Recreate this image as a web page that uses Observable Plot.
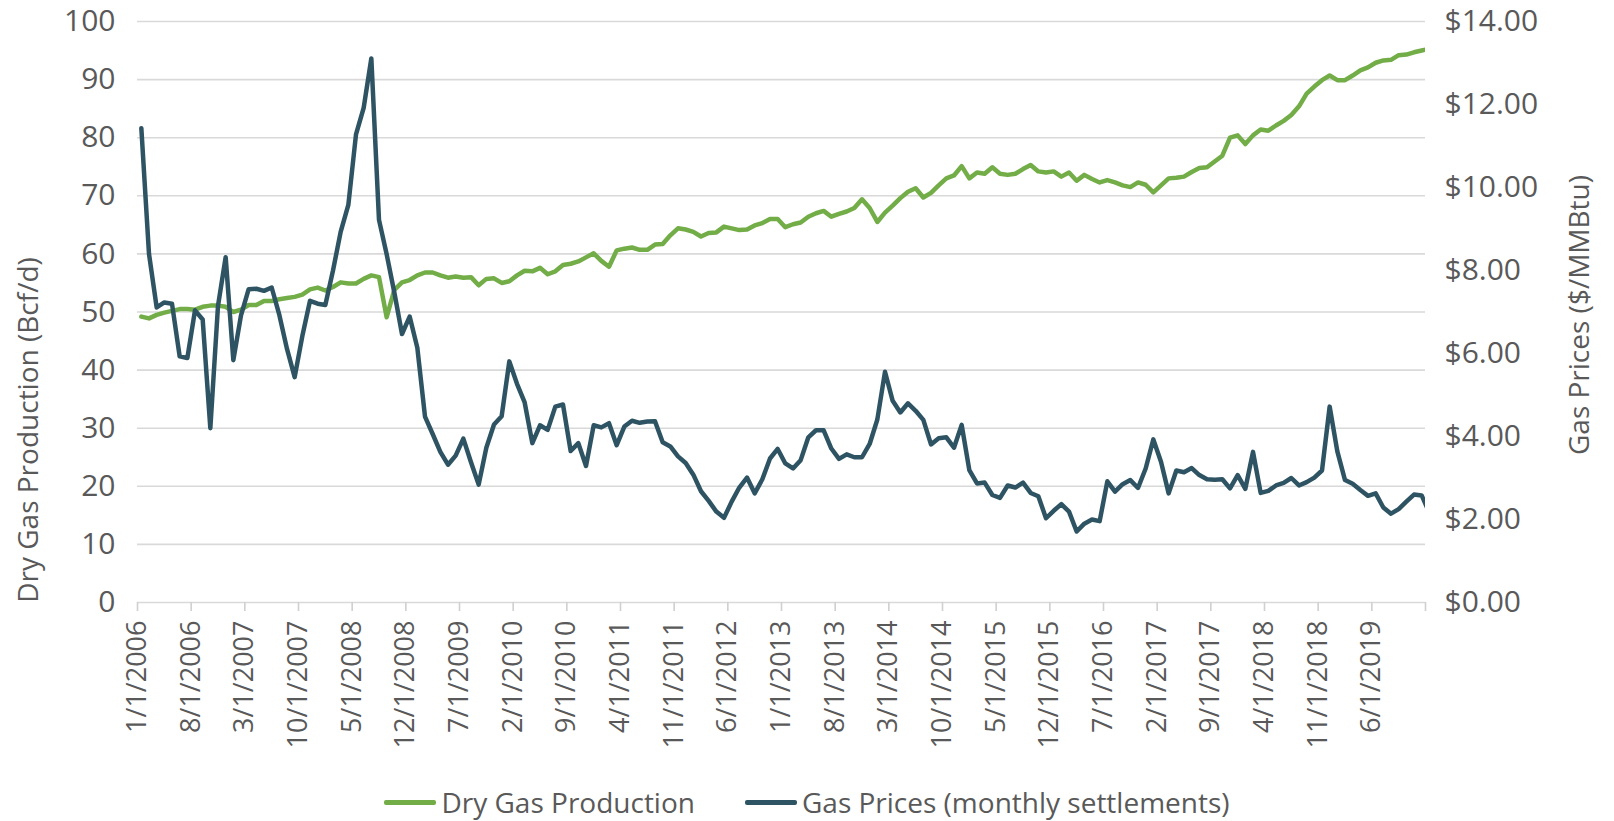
<!DOCTYPE html>
<html>
<head>
<meta charset="utf-8">
<script src="https://cdn.jsdelivr.net/npm/d3@7"></script>
<script src="https://cdn.jsdelivr.net/npm/@observablehq/plot@0.6"></script>
<style>
  body { margin: 0; background: #fff; font-family: "Open Sans", sans-serif; }
  #wrap { position: relative; width: 1614px; height: 821px; overflow: hidden; }
  #legend { position: absolute; left: 0; top: 783px; width: 1614px; height: 38px; line-height: 38px;
            display: flex; justify-content: center; align-items: center;
            font-size: 28px; color: #595959; white-space: nowrap; }
  .item { display: flex; align-items: center; }
  .item + .item { margin-left: 50px; }
  .sw { width: 52px; height: 5px; margin-right: 5px; border-radius: 2px; }
</style>
</head>
<body>
<div id="wrap"></div>
<script>
// Monthly series starting January 2006 (last value, January 2020, runs off the plot edge)
const firstYear = 2006;

// Dry gas production, Bcf/d
const production = [
  49.2, 48.9, 49.5, 49.9, 50.2, 50.5, 50.5, 50.4, 50.9, 51.1, 51.1, 50.9, // 2006
  50.0, 50.4, 51.2, 51.2, 51.9, 51.9, 52.2, 52.4, 52.6, 53.0, 53.9, 54.2, // 2007
  53.7, 54.3, 55.1, 54.9, 54.9, 55.7, 56.3, 56.0, 49.1, 53.8, 55.1, 55.5, // 2008
  56.3, 56.8, 56.8, 56.3, 55.9, 56.1, 55.9, 56.0, 54.6, 55.7, 55.8, 55.0, // 2009
  55.3, 56.3, 57.1, 57.0, 57.6, 56.5, 57.0, 58.1, 58.3, 58.7, 59.4, 60.1, // 2010
  58.8, 57.8, 60.6, 60.9, 61.1, 60.7, 60.7, 61.6, 61.7, 63.2, 64.4, 64.2, // 2011
  63.8, 63.0, 63.6, 63.7, 64.7, 64.4, 64.1, 64.2, 64.9, 65.3, 66.0, 66.0, // 2012
  64.6, 65.1, 65.4, 66.4, 67.0, 67.4, 66.4, 66.9, 67.3, 67.9, 69.4, 67.9, // 2013
  65.5, 67.1, 68.3, 69.6, 70.7, 71.3, 69.7, 70.5, 71.8, 73.0, 73.5, 75.1, // 2014
  73.0, 74.0, 73.8, 74.9, 73.8, 73.6, 73.8, 74.6, 75.3, 74.2, 74.0, 74.2, // 2015
  73.3, 74.0, 72.6, 73.6, 72.9, 72.3, 72.7, 72.3, 71.8, 71.5, 72.3, 71.9, // 2016
  70.6, 71.8, 73.0, 73.1, 73.3, 74.1, 74.8, 74.9, 75.9, 76.9, 80.0, 80.4, // 2017
  78.9, 80.4, 81.4, 81.2, 82.1, 82.9, 83.9, 85.4, 87.6, 88.8, 89.9, 90.7, // 2018
  89.9, 89.9, 90.7, 91.6, 92.1, 92.9, 93.3, 93.4, 94.2, 94.3, 94.7, 95.0, // 2019
  95.3                                                                    // 2020
];

// Gas prices, monthly settlements, $/MMBtu
const prices = [
  11.43, 8.40, 7.11, 7.23, 7.20, 5.93, 5.89, 7.04, 6.82, 4.20, 7.15, 8.32, // 2006
  5.84, 6.92, 7.55, 7.56, 7.51, 7.59, 6.93, 6.11, 5.43, 6.42, 7.27, 7.20,  // 2007
  7.17, 8.00, 8.93, 9.58, 11.28, 11.92, 13.11, 9.22, 8.39, 7.47, 6.47, 6.89, // 2008
  6.14, 4.48, 4.06, 3.63, 3.32, 3.54, 3.95, 3.38, 2.84, 3.73, 4.29, 4.49,  // 2009
  5.81, 5.27, 4.82, 3.84, 4.27, 4.16, 4.72, 4.77, 3.65, 3.84, 3.29, 4.27,  // 2010
  4.22, 4.32, 3.79, 4.24, 4.38, 4.33, 4.36, 4.37, 3.86, 3.76, 3.52, 3.36,  // 2011
  3.08, 2.68, 2.45, 2.19, 2.04, 2.43, 2.77, 3.01, 2.63, 2.97, 3.47, 3.70,  // 2012
  3.35, 3.23, 3.43, 3.98, 4.15, 4.15, 3.71, 3.46, 3.57, 3.50, 3.50, 3.82,  // 2013
  4.41, 5.56, 4.86, 4.58, 4.80, 4.62, 4.40, 3.81, 3.96, 3.98, 3.73, 4.28,  // 2014
  3.19, 2.87, 2.89, 2.59, 2.52, 2.82, 2.77, 2.89, 2.64, 2.56, 2.03, 2.21,  // 2015
  2.37, 2.19, 1.71, 1.90, 2.00, 1.96, 2.92, 2.67, 2.85, 2.95, 2.76, 3.23,  // 2016
  3.93, 3.39, 2.63, 3.18, 3.14, 3.24, 3.07, 2.97, 2.96, 2.97, 2.75, 3.07,  // 2017
  2.74, 3.63, 2.64, 2.69, 2.82, 2.88, 3.00, 2.82, 2.90, 3.01, 3.18, 4.72,  // 2018
  3.64, 2.95, 2.86, 2.71, 2.57, 2.63, 2.29, 2.14, 2.25, 2.43, 2.60, 2.58,  // 2019
  2.16                                                                     // 2020
];

// Category axis labels (every 7 months)
const tickLabels = [
  "1/1/2006", "8/1/2006", "3/1/2007", "10/1/2007", "5/1/2008", "12/1/2008",
  "7/1/2009", "2/1/2010", "9/1/2010", "4/1/2011", "11/1/2011", "6/1/2012",
  "1/1/2013", "8/1/2013", "3/1/2014", "10/1/2014", "5/1/2015", "12/1/2015",
  "7/1/2016", "2/1/2017", "9/1/2017", "4/1/2018", "11/1/2018", "6/1/2019"
];
const tickStep = 7;
const monthSpan = 168; // Jan 2006 .. Jan 2020

const prodTicks = [0, 10, 20, 30, 40, 50, 60, 70, 80, 90, 100];
const priceTicks = [0, 2, 4, 6, 8, 10, 12, 14];
const prodMax = 100, priceMax = 14;

const seriesNames = ["Dry Gas Production", "Gas Prices (monthly settlements)"];
const axisTitles = ["Dry Gas Production (Bcf/d)", "Gas Prices ($/MMBtu)"];
const colors = ["#72ad47", "#2e5464"];

// table built from the arrays: x is the month index, centred in its month
const rows = production.map((p, i) => ({ m: i + 0.5, prod: p, price: prices[i] }));
const toLeft = v => v * prodMax / priceMax;
const xTickPos = d3.range(0, monthSpan + 1, tickStep);

const chart = Plot.plot({
  width: 1614,
  height: 783,
  marginLeft: 137,
  marginRight: 189,
  marginTop: 21,
  marginBottom: 181,
  style: { fontFamily: "Open Sans, sans-serif", fontSize: "30px", color: "#595959", background: "#fff" },
  x: { type: "linear", domain: [0, monthSpan] },
  y: { domain: [0, prodMax] },
  marks: [
    Plot.gridY(prodTicks, { stroke: "#d9d9d9", strokeOpacity: 1, strokeWidth: 1.6 }),
    Plot.axisY(prodTicks, { anchor: "left", tickSize: 0, tickPadding: 22, label: null }),
    Plot.axisY(priceTicks.map(toLeft), {
      anchor: "right", tickSize: 0, tickPadding: 19, label: null,
      tickFormat: v => "$" + (v * priceMax / prodMax).toFixed(2)
    }),
    Plot.axisX(xTickPos, { tickSize: 9, tickFormat: () => "", color: "#d0d0d0", label: null, strokeWidth: 1.6 }),
    Plot.axisX(xTickPos, {
      tickSize: 0, tickPadding: 18, tickRotate: -90, label: null, fontSize: 27,
      tickFormat: v => tickLabels[v / tickStep] ?? ""
    }),
    Plot.line(rows, { x: "m", y: "prod", stroke: colors[0], strokeWidth: 4.5, clip: true }),
    Plot.line(rows, { x: "m", y: d => toLeft(d.price), stroke: colors[1], strokeWidth: 4.5, clip: true }),
    Plot.text([axisTitles[0]], {
      frameAnchor: "left", textAnchor: "middle", dx: -108, dy: 118, rotate: -90, fill: "#595959", fontSize: 28
    }),
    Plot.text([axisTitles[1]], {
      frameAnchor: "right", textAnchor: "middle", dx: 155, dy: 3, rotate: -90, fill: "#595959", fontSize: 28
    })
  ]
});

const wrap = document.getElementById("wrap");
wrap.appendChild(chart);

const legend = document.createElement("div");
legend.id = "legend";
seriesNames.forEach((name, k) => {
  const item = document.createElement("div");
  item.className = "item";
  const sw = document.createElement("span");
  sw.className = "sw";
  sw.style.background = colors[k];
  const label = document.createElement("span");
  label.textContent = name;
  item.appendChild(sw);
  item.appendChild(label);
  legend.appendChild(item);
});
wrap.appendChild(legend);
</script>
</body>
</html>
